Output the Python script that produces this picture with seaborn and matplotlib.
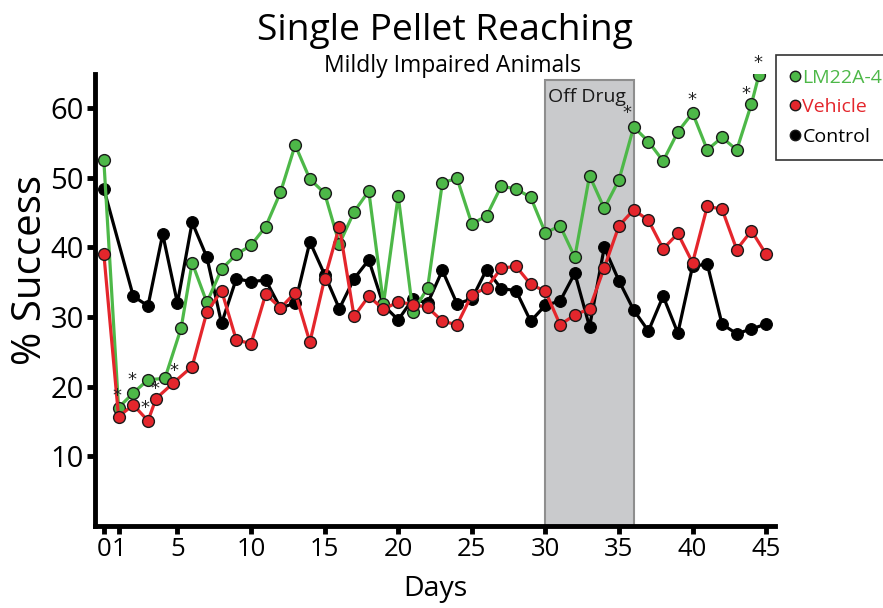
import matplotlib
matplotlib.use("Agg")
import matplotlib.pyplot as plt
from matplotlib.patches import Rectangle
from matplotlib.lines import Line2D
import seaborn as sns
import pandas as pd

# ---- data ----
green_days = [0, 1, 2, 3, 4.15, 5.25, 6, 7, 8, 9, 10, 11, 12, 13, 14, 15, 16, 17, 18, 19, 20,
              21, 22, 23, 24, 25, 26, 27, 28, 29, 30, 31, 32, 33, 34, 35, 36, 37, 38, 39, 40,
              41, 42, 43, 44, 44.5]
green_vals = [52.5, 17.0, 19.1, 21.0, 21.2, 28.4, 37.8, 32.1, 36.9, 39.0, 40.3, 43.0, 47.9, 54.7,
              49.8, 47.8, 40.5, 45.1, 48.1, 31.9, 47.4, 30.7, 34.2, 49.3, 49.9, 43.4, 44.5, 48.8,
              48.4, 47.2, 42.1, 43.1, 38.6, 50.3, 45.6, 49.7, 57.3, 55.2, 52.4, 56.6, 59.3, 54.0,
              55.8, 54.0, 60.6, 64.7]

red_days = [0, 1, 2, 3, 3.55, 4.7, 6, 7, 8, 9, 10, 11, 12, 13, 14, 15, 16, 17, 18, 19, 20, 21,
            22, 23, 24, 25, 26, 27, 28, 29, 30, 31, 32, 33, 34, 35, 36, 37, 38, 39, 40, 41, 42,
            43, 44, 45]
red_vals = [39.1, 15.7, 17.4, 15.1, 18.3, 20.5, 22.9, 30.7, 33.8, 26.7, 26.2, 33.3, 31.3, 33.5,
            26.4, 35.5, 43.0, 30.1, 33.0, 31.1, 32.2, 31.8, 31.4, 29.4, 28.9, 33.2, 34.2, 37.0,
            37.3, 34.7, 33.7, 28.9, 30.3, 31.2, 37.1, 43.1, 45.4, 43.9, 39.8, 42.0, 37.8, 45.9,
            45.5, 39.7, 42.4, 39.0]

black_days = [0, 2, 3, 4, 5, 6, 7, 8, 9, 10, 11, 12, 13, 14, 15, 16, 17, 18, 19, 20, 21, 22,
              23, 24, 25, 26, 27, 28, 29, 30, 31, 32, 33, 34, 35, 36, 37, 38, 39, 40, 41, 42,
              43, 44, 45]
black_vals = [48.4, 33.0, 31.6, 41.9, 32.0, 43.6, 38.6, 29.1, 35.5, 35.1, 35.3, 31.3, 32.0, 40.8,
              36.1, 31.2, 35.5, 38.2, 31.7, 29.6, 32.6, 32.0, 36.7, 31.9, 32.6, 36.8, 34.1, 33.8,
              29.4, 31.7, 32.3, 36.3, 28.6, 40.0, 35.2, 31.0, 28.0, 33.0, 27.7, 37.3, 37.6, 29.0,
              27.6, 28.3, 29.0]

star_x = [0.88, 1.90, 2.78, 3.46, 4.75, 35.55, 39.94, 43.6, 44.45]
star_y = [18.6, 21.0, 17.0, 19.7, 22.3, 59.3, 61.1, 62.0, 66.5]

series_names = ["LM22A-4", "Vehicle", "Control"]
off_drug = (30, 36.05, 64.06)
x_ticks = [0, 1, 5, 10, 15, 20, 25, 30, 35, 40, 45]
y_ticks = [10, 20, 30, 40, 50, 60]

GREEN = "#4db848"
RED = "#e4262c"
BLACK = "#000000"

sns.set_theme(style="white")
plt.rcParams["font.family"] = ["Open Sans", "DejaVu Sans"]
for k in ["text.color", "axes.labelcolor", "xtick.color", "ytick.color"]:
    plt.rcParams[k] = "black"

fig = plt.figure(figsize=(8.83, 6.08), dpi=100)
ax = fig.add_axes([95 / 883, 1 - 526 / 608, (775 - 95) / 883, (526 - 74) / 608])

# off drug box
ax.add_patch(Rectangle((off_drug[0], 0), off_drug[1] - off_drug[0], off_drug[2],
                       facecolor="#c9cacc", edgecolor="#8e8e8e", lw=1.5, zorder=0.5))
ax.text(off_drug[0] + 0.2, off_drug[2] - 2.5, "Off Drug", fontsize=14, ha="left", va="center",
        color="#1a1a1a", zorder=1)

df_b = pd.DataFrame({"day": black_days, "val": black_vals})
df_g = pd.DataFrame({"day": green_days, "val": green_vals})
df_r = pd.DataFrame({"day": red_days, "val": red_vals})

sns.lineplot(data=df_b, x="day", y="val", ax=ax, color=BLACK, lw=2.3, marker="o",
             markersize=8.5, markerfacecolor=BLACK, markeredgecolor=BLACK, zorder=2)
sns.lineplot(data=df_g, x="day", y="val", ax=ax, color=GREEN, lw=2.3, marker="o",
             markersize=8.5, markerfacecolor=GREEN, markeredgecolor="#1a1a1a",
             markeredgewidth=1.0, zorder=3)
sns.lineplot(data=df_r, x="day", y="val", ax=ax, color=RED, lw=2.3, marker="o",
             markersize=8.5, markerfacecolor=RED, markeredgecolor="#1a1a1a",
             markeredgewidth=1.0, zorder=4)

for sx, sy in zip(star_x, star_y):
    ax.text(sx, sy, "*", fontsize=13, ha="center", va="center", color="#222222",
            family=["DejaVu Sans"], zorder=5)

ax.set_xlim(-0.6, 45.6)
ax.set_ylim(0, 64.9)
ax.set_xticks(x_ticks)
ax.set_xticklabels([str(t) for t in x_ticks], fontsize=18.5)
ax.set_yticks(y_ticks)
ax.set_yticklabels([str(t) for t in y_ticks], fontsize=21)
ax.tick_params(axis="both", direction="out", length=6, width=3.5, color="black",
               bottom=True, left=True, pad=2)
for side in ["top", "right"]:
    ax.spines[side].set_visible(False)
for side in ["left", "bottom"]:
    ax.spines[side].set_linewidth(3.5)
    ax.spines[side].set_color("black")

ax.set_xlabel("Days", fontsize=20.5, labelpad=9)
ax.set_ylabel("% Success", fontsize=29)
ax.yaxis.set_label_coords(-0.064, 0.566)

fig.text(0.504, 1 - 31 / 608, "Single Pellet Reaching", fontsize=26.8, ha="center", va="center")
fig.text(0.512, 1 - 66 / 608, "Mildly Impaired Animals", fontsize=16.5, ha="center", va="center")

handles = [Line2D([], [], ls="none", marker="o", markersize=7.5, markerfacecolor=c,
                  markeredgecolor="#1a1a1a", markeredgewidth=1.0) for c in [GREEN, RED, BLACK]]
leg = fig.legend(handles, series_names, loc="upper left", bbox_to_anchor=(776 / 883, 1 - 55 / 608),
                 fontsize=14, handlelength=0.55, handletextpad=0.1, borderpad=0.7,
                 labelspacing=0.6, frameon=True, fancybox=False, borderaxespad=0)
leg.get_frame().set_edgecolor("black")
leg.get_frame().set_linewidth(1.2)
for t, c in zip(leg.get_texts(), [GREEN, RED, BLACK]):
    t.set_color(c)

fig.savefig("out.png", dpi=100)
